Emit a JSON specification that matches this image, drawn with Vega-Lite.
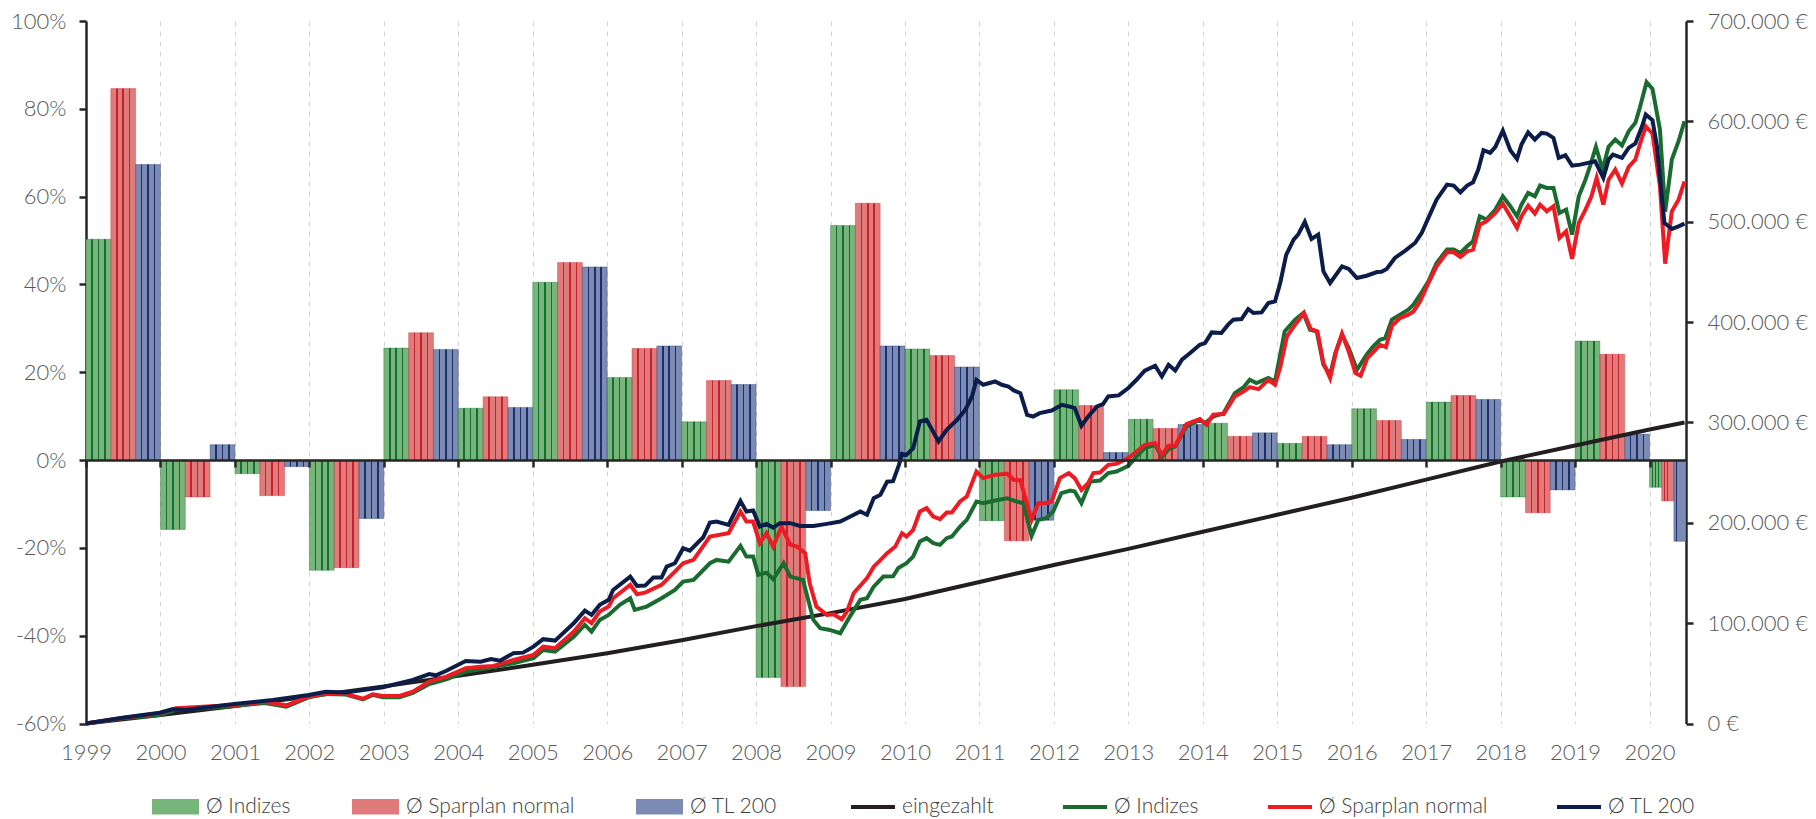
{
  "$schema": "https://vega.github.io/schema/vega-lite/v6.json",
  "width": 1600,
  "height": 702.5,
  "autosize": {"type": "none"},
  "padding": {"left": 86, "top": 21, "right": 130, "bottom": 95.5},
  "background": "white",
  "config": {
    "view": {"stroke": null},
    "axis": {"labelFont": "Lato", "labelFontWeight": 300, "labelFontSize": 22, "labelColor": "#595959"},
    "legend": {"labelFont": "Lato", "labelFontWeight": 300, "labelFontSize": 21, "labelColor": "#404040", "labelLimit": 400}
  },
  "datasets": {
    "balken": [
      {"jahr": 1999, "serie": "Ø Indizes", "wert": 50.3, "von": 1999, "bis": 1999.3333},
      {"jahr": 1999, "serie": "Ø Sparplan normal", "wert": 84.6, "von": 1999.3333, "bis": 1999.6667},
      {"jahr": 1999, "serie": "Ø TL 200", "wert": 67.3, "von": 1999.6667, "bis": 2000},
      {"jahr": 2000, "serie": "Ø Indizes", "wert": -15.8, "von": 2000, "bis": 2000.3333},
      {"jahr": 2000, "serie": "Ø Sparplan normal", "wert": -8.4, "von": 2000.3333, "bis": 2000.6667},
      {"jahr": 2000, "serie": "Ø TL 200", "wert": 3.5, "von": 2000.6667, "bis": 2001},
      {"jahr": 2001, "serie": "Ø Indizes", "wert": -3.1, "von": 2001, "bis": 2001.3333},
      {"jahr": 2001, "serie": "Ø Sparplan normal", "wert": -8.1, "von": 2001.3333, "bis": 2001.6667},
      {"jahr": 2001, "serie": "Ø TL 200", "wert": -1.5, "von": 2001.6667, "bis": 2002},
      {"jahr": 2002, "serie": "Ø Indizes", "wert": -25.1, "von": 2002, "bis": 2002.3333},
      {"jahr": 2002, "serie": "Ø Sparplan normal", "wert": -24.5, "von": 2002.3333, "bis": 2002.6667},
      {"jahr": 2002, "serie": "Ø TL 200", "wert": -13.3, "von": 2002.6667, "bis": 2003},
      {"jahr": 2003, "serie": "Ø Indizes", "wert": 25.5, "von": 2003, "bis": 2003.3333},
      {"jahr": 2003, "serie": "Ø Sparplan normal", "wert": 29.0, "von": 2003.3333, "bis": 2003.6667},
      {"jahr": 2003, "serie": "Ø TL 200", "wert": 25.2, "von": 2003.6667, "bis": 2004},
      {"jahr": 2004, "serie": "Ø Indizes", "wert": 11.8, "von": 2004, "bis": 2004.3333},
      {"jahr": 2004, "serie": "Ø Sparplan normal", "wert": 14.4, "von": 2004.3333, "bis": 2004.6667},
      {"jahr": 2004, "serie": "Ø TL 200", "wert": 12.0, "von": 2004.6667, "bis": 2005},
      {"jahr": 2005, "serie": "Ø Indizes", "wert": 40.5, "von": 2005, "bis": 2005.3333},
      {"jahr": 2005, "serie": "Ø Sparplan normal", "wert": 45.0, "von": 2005.3333, "bis": 2005.6667},
      {"jahr": 2005, "serie": "Ø TL 200", "wert": 44.0, "von": 2005.6667, "bis": 2006},
      {"jahr": 2006, "serie": "Ø Indizes", "wert": 18.8, "von": 2006, "bis": 2006.3333},
      {"jahr": 2006, "serie": "Ø Sparplan normal", "wert": 25.4, "von": 2006.3333, "bis": 2006.6667},
      {"jahr": 2006, "serie": "Ø TL 200", "wert": 26.0, "von": 2006.6667, "bis": 2007},
      {"jahr": 2007, "serie": "Ø Indizes", "wert": 8.7, "von": 2007, "bis": 2007.3333},
      {"jahr": 2007, "serie": "Ø Sparplan normal", "wert": 18.1, "von": 2007.3333, "bis": 2007.6667},
      {"jahr": 2007, "serie": "Ø TL 200", "wert": 17.2, "von": 2007.6667, "bis": 2008},
      {"jahr": 2008, "serie": "Ø Indizes", "wert": -49.5, "von": 2008, "bis": 2008.3333},
      {"jahr": 2008, "serie": "Ø Sparplan normal", "wert": -51.6, "von": 2008.3333, "bis": 2008.6667},
      {"jahr": 2008, "serie": "Ø TL 200", "wert": -11.5, "von": 2008.6667, "bis": 2009},
      {"jahr": 2009, "serie": "Ø Indizes", "wert": 53.4, "von": 2009, "bis": 2009.3333},
      {"jahr": 2009, "serie": "Ø Sparplan normal", "wert": 58.5, "von": 2009.3333, "bis": 2009.6667},
      {"jahr": 2009, "serie": "Ø TL 200", "wert": 26.0, "von": 2009.6667, "bis": 2010},
      {"jahr": 2010, "serie": "Ø Indizes", "wert": 25.3, "von": 2010, "bis": 2010.3333},
      {"jahr": 2010, "serie": "Ø Sparplan normal", "wert": 23.8, "von": 2010.3333, "bis": 2010.6667},
      {"jahr": 2010, "serie": "Ø TL 200", "wert": 21.2, "von": 2010.6667, "bis": 2011},
      {"jahr": 2011, "serie": "Ø Indizes", "wert": -13.8, "von": 2011, "bis": 2011.3333},
      {"jahr": 2011, "serie": "Ø Sparplan normal", "wert": -18.4, "von": 2011.3333, "bis": 2011.6667},
      {"jahr": 2011, "serie": "Ø TL 200", "wert": -13.7, "von": 2011.6667, "bis": 2012},
      {"jahr": 2012, "serie": "Ø Indizes", "wert": 16.0, "von": 2012, "bis": 2012.3333},
      {"jahr": 2012, "serie": "Ø Sparplan normal", "wert": 12.4, "von": 2012.3333, "bis": 2012.6667},
      {"jahr": 2012, "serie": "Ø TL 200", "wert": 1.7, "von": 2012.6667, "bis": 2013},
      {"jahr": 2013, "serie": "Ø Indizes", "wert": 9.3, "von": 2013, "bis": 2013.3333},
      {"jahr": 2013, "serie": "Ø Sparplan normal", "wert": 7.2, "von": 2013.3333, "bis": 2013.6667},
      {"jahr": 2013, "serie": "Ø TL 200", "wert": 8.1, "von": 2013.6667, "bis": 2014},
      {"jahr": 2014, "serie": "Ø Indizes", "wert": 8.4, "von": 2014, "bis": 2014.3333},
      {"jahr": 2014, "serie": "Ø Sparplan normal", "wert": 5.4, "von": 2014.3333, "bis": 2014.6667},
      {"jahr": 2014, "serie": "Ø TL 200", "wert": 6.2, "von": 2014.6667, "bis": 2015},
      {"jahr": 2015, "serie": "Ø Indizes", "wert": 3.8, "von": 2015, "bis": 2015.3333},
      {"jahr": 2015, "serie": "Ø Sparplan normal", "wert": 5.4, "von": 2015.3333, "bis": 2015.6667},
      {"jahr": 2015, "serie": "Ø TL 200", "wert": 3.5, "von": 2015.6667, "bis": 2016},
      {"jahr": 2016, "serie": "Ø Indizes", "wert": 11.7, "von": 2016, "bis": 2016.3333},
      {"jahr": 2016, "serie": "Ø Sparplan normal", "wert": 9.0, "von": 2016.3333, "bis": 2016.6667},
      {"jahr": 2016, "serie": "Ø TL 200", "wert": 4.7, "von": 2016.6667, "bis": 2017},
      {"jahr": 2017, "serie": "Ø Indizes", "wert": 13.2, "von": 2017, "bis": 2017.3333},
      {"jahr": 2017, "serie": "Ø Sparplan normal", "wert": 14.7, "von": 2017.3333, "bis": 2017.6667},
      {"jahr": 2017, "serie": "Ø TL 200", "wert": 13.8, "von": 2017.6667, "bis": 2018},
      {"jahr": 2018, "serie": "Ø Indizes", "wert": -8.4, "von": 2018, "bis": 2018.3333},
      {"jahr": 2018, "serie": "Ø Sparplan normal", "wert": -12.0, "von": 2018.3333, "bis": 2018.6667},
      {"jahr": 2018, "serie": "Ø TL 200", "wert": -6.8, "von": 2018.6667, "bis": 2019},
      {"jahr": 2019, "serie": "Ø Indizes", "wert": 27.1, "von": 2019, "bis": 2019.3333},
      {"jahr": 2019, "serie": "Ø Sparplan normal", "wert": 24.1, "von": 2019.3333, "bis": 2019.6667},
      {"jahr": 2019, "serie": "Ø TL 200", "wert": 5.9, "von": 2019.6667, "bis": 2020},
      {"jahr": 2020, "serie": "Ø Indizes", "wert": -6.2, "von": 2020, "bis": 2020.163},
      {"jahr": 2020, "serie": "Ø Sparplan normal", "wert": -9.3, "von": 2020.163, "bis": 2020.327},
      {"jahr": 2020, "serie": "Ø TL 200", "wert": -18.5, "von": 2020.327, "bis": 2020.49}
    ],
    "eingezahlt": [
      {"jahr": 1999, "wert": 0}, {"jahr": 2000, "wert": 8500}, {"jahr": 2001, "wert": 17500},
      {"jahr": 2002, "wert": 27000}, {"jahr": 2003, "wert": 37000}, {"jahr": 2004, "wert": 47500},
      {"jahr": 2005, "wert": 58500}, {"jahr": 2006, "wert": 70000}, {"jahr": 2007, "wert": 83000},
      {"jahr": 2008, "wert": 97000}, {"jahr": 2009, "wert": 110000}, {"jahr": 2010, "wert": 124000},
      {"jahr": 2011, "wert": 141000}, {"jahr": 2012, "wert": 158000}, {"jahr": 2013, "wert": 174000},
      {"jahr": 2014, "wert": 191000}, {"jahr": 2015, "wert": 208000}, {"jahr": 2016, "wert": 225000},
      {"jahr": 2017, "wert": 243000}, {"jahr": 2018, "wert": 261000}, {"jahr": 2019, "wert": 277000},
      {"jahr": 2020, "wert": 293000}, {"jahr": 2020.47, "wert": 300000}
    ],
    "indizes": [
      {"jahr": 1999.00, "wert": 0}, {"jahr": 1999.49, "wert": 5300}, {"jahr": 1999.99, "wert": 8500},
      {"jahr": 2000.21, "wert": 13500}, {"jahr": 2000.99, "wert": 17400}, {"jahr": 2001.40, "wert": 20500},
      {"jahr": 2001.69, "wert": 16800}, {"jahr": 2001.99, "wert": 26100}, {"jahr": 2002.22, "wert": 29500},
      {"jahr": 2002.49, "wert": 28800}, {"jahr": 2002.72, "wert": 24100}, {"jahr": 2002.85, "wert": 28500},
      {"jahr": 2002.99, "wert": 26100}, {"jahr": 2003.21, "wert": 26100}, {"jahr": 2003.39, "wert": 30500},
      {"jahr": 2003.61, "wert": 39400}, {"jahr": 2003.84, "wert": 44000}, {"jahr": 2004.10, "wert": 51600},
      {"jahr": 2004.30, "wert": 54000}, {"jahr": 2004.74, "wert": 60000}, {"jahr": 2005.01, "wert": 65000},
      {"jahr": 2005.14, "wert": 73300}, {"jahr": 2005.30, "wert": 71600}, {"jahr": 2005.55, "wert": 86500},
      {"jahr": 2005.70, "wert": 98200}, {"jahr": 2005.79, "wert": 91500}, {"jahr": 2005.90, "wert": 103200},
      {"jahr": 2006.02, "wert": 108200}, {"jahr": 2006.17, "wert": 118200}, {"jahr": 2006.31, "wert": 124800},
      {"jahr": 2006.37, "wert": 113200}, {"jahr": 2006.53, "wert": 116500}, {"jahr": 2006.73, "wert": 124800},
      {"jahr": 2006.91, "wert": 133100}, {"jahr": 2007.02, "wert": 141400}, {"jahr": 2007.16, "wert": 143100},
      {"jahr": 2007.38, "wert": 159700}, {"jahr": 2007.47, "wert": 163000}, {"jahr": 2007.63, "wert": 161300},
      {"jahr": 2007.79, "wert": 177000}, {"jahr": 2007.87, "wert": 166300}, {"jahr": 2007.96, "wert": 166300},
      {"jahr": 2008.03, "wert": 148100}, {"jahr": 2008.14, "wert": 150300}, {"jahr": 2008.23, "wert": 143800},
      {"jahr": 2008.37, "wert": 159700}, {"jahr": 2008.46, "wert": 146400}, {"jahr": 2008.63, "wert": 143100},
      {"jahr": 2008.77, "wert": 103200}, {"jahr": 2008.86, "wert": 94900}, {"jahr": 2008.99, "wert": 93200},
      {"jahr": 2009.13, "wert": 89900}, {"jahr": 2009.26, "wert": 106500}, {"jahr": 2009.40, "wert": 123200},
      {"jahr": 2009.49, "wert": 124800}, {"jahr": 2009.58, "wert": 136400}, {"jahr": 2009.71, "wert": 146400},
      {"jahr": 2009.84, "wert": 146700}, {"jahr": 2009.91, "wert": 155000}, {"jahr": 2010.02, "wert": 159700},
      {"jahr": 2010.11, "wert": 166300}, {"jahr": 2010.20, "wert": 181300}, {"jahr": 2010.29, "wert": 184700},
      {"jahr": 2010.38, "wert": 179700}, {"jahr": 2010.47, "wert": 178000}, {"jahr": 2010.56, "wert": 184700},
      {"jahr": 2010.63, "wert": 186300}, {"jahr": 2010.74, "wert": 196200}, {"jahr": 2010.83, "wert": 202900},
      {"jahr": 2010.96, "wert": 221200}, {"jahr": 2011.05, "wert": 219500}, {"jahr": 2011.21, "wert": 222200},
      {"jahr": 2011.37, "wert": 224500}, {"jahr": 2011.50, "wert": 221200}, {"jahr": 2011.59, "wert": 219500},
      {"jahr": 2011.70, "wert": 187000}, {"jahr": 2011.79, "wert": 202900}, {"jahr": 2011.90, "wert": 204600},
      {"jahr": 2011.99, "wert": 211200}, {"jahr": 2012.10, "wert": 229500}, {"jahr": 2012.22, "wert": 232100},
      {"jahr": 2012.28, "wert": 231100}, {"jahr": 2012.37, "wert": 219500}, {"jahr": 2012.49, "wert": 241100},
      {"jahr": 2012.62, "wert": 242100}, {"jahr": 2012.73, "wert": 249500}, {"jahr": 2012.84, "wert": 251100},
      {"jahr": 2013.00, "wert": 256800}, {"jahr": 2013.11, "wert": 266000}, {"jahr": 2013.22, "wert": 274400},
      {"jahr": 2013.36, "wert": 277700}, {"jahr": 2013.45, "wert": 265400}, {"jahr": 2013.54, "wert": 273400},
      {"jahr": 2013.63, "wert": 276000}, {"jahr": 2013.78, "wert": 295900}, {"jahr": 2013.96, "wert": 302600},
      {"jahr": 2014.03, "wert": 299300}, {"jahr": 2014.14, "wert": 305900}, {"jahr": 2014.28, "wert": 309300},
      {"jahr": 2014.43, "wert": 329200}, {"jahr": 2014.55, "wert": 335200}, {"jahr": 2014.63, "wert": 342500},
      {"jahr": 2014.72, "wert": 339200}, {"jahr": 2014.88, "wert": 344200}, {"jahr": 2014.97, "wert": 340800},
      {"jahr": 2015.10, "wert": 390600}, {"jahr": 2015.24, "wert": 402400}, {"jahr": 2015.35, "wert": 409000},
      {"jahr": 2015.44, "wert": 392400}, {"jahr": 2015.53, "wert": 390700}, {"jahr": 2015.62, "wert": 357500},
      {"jahr": 2015.71, "wert": 347500}, {"jahr": 2015.78, "wert": 369100}, {"jahr": 2015.87, "wert": 387400},
      {"jahr": 2015.96, "wert": 374100}, {"jahr": 2016.07, "wert": 352500}, {"jahr": 2016.20, "wert": 367500},
      {"jahr": 2016.29, "wert": 375700}, {"jahr": 2016.38, "wert": 382400}, {"jahr": 2016.45, "wert": 384000},
      {"jahr": 2016.54, "wert": 402400}, {"jahr": 2016.65, "wert": 407400}, {"jahr": 2016.76, "wert": 412300},
      {"jahr": 2016.83, "wert": 417300}, {"jahr": 2016.92, "wert": 427300}, {"jahr": 2017.03, "wert": 440600},
      {"jahr": 2017.14, "wert": 458900}, {"jahr": 2017.28, "wert": 472200}, {"jahr": 2017.37, "wert": 472200},
      {"jahr": 2017.46, "wert": 468900}, {"jahr": 2017.55, "wert": 475500}, {"jahr": 2017.63, "wert": 480500},
      {"jahr": 2017.72, "wert": 505400}, {"jahr": 2017.81, "wert": 502100}, {"jahr": 2017.93, "wert": 512100},
      {"jahr": 2018.03, "wert": 525300}, {"jahr": 2018.13, "wert": 515400}, {"jahr": 2018.22, "wert": 505400},
      {"jahr": 2018.28, "wert": 517000}, {"jahr": 2018.37, "wert": 528700}, {"jahr": 2018.46, "wert": 525300},
      {"jahr": 2018.53, "wert": 536000}, {"jahr": 2018.62, "wert": 533700}, {"jahr": 2018.71, "wert": 533700},
      {"jahr": 2018.79, "wert": 508700}, {"jahr": 2018.88, "wert": 512100}, {"jahr": 2018.96, "wert": 487100},
      {"jahr": 2019.05, "wert": 525300}, {"jahr": 2019.14, "wert": 541900}, {"jahr": 2019.20, "wert": 555200},
      {"jahr": 2019.28, "wert": 574600}, {"jahr": 2019.37, "wert": 551900}, {"jahr": 2019.45, "wert": 574600},
      {"jahr": 2019.54, "wert": 581900}, {"jahr": 2019.63, "wert": 575900}, {"jahr": 2019.72, "wert": 590100},
      {"jahr": 2019.81, "wert": 598500}, {"jahr": 2019.87, "wert": 613500}, {"jahr": 2019.96, "wert": 639000},
      {"jahr": 2020.04, "wert": 632400}, {"jahr": 2020.14, "wert": 591800}, {"jahr": 2020.21, "wert": 510000},
      {"jahr": 2020.30, "wert": 561900}, {"jahr": 2020.39, "wert": 580200}, {"jahr": 2020.47, "wert": 600100}
    ],
    "sparplan": [
      {"jahr": 1999.00, "wert": 0}, {"jahr": 1999.49, "wert": 5500}, {"jahr": 1999.99, "wert": 10200},
      {"jahr": 2000.21, "wert": 15200}, {"jahr": 2000.99, "wert": 18400}, {"jahr": 2001.40, "wert": 21700},
      {"jahr": 2001.69, "wert": 18100}, {"jahr": 2001.99, "wert": 26700}, {"jahr": 2002.22, "wert": 30100},
      {"jahr": 2002.49, "wert": 29400}, {"jahr": 2002.72, "wert": 24700}, {"jahr": 2002.85, "wert": 29100},
      {"jahr": 2002.99, "wert": 27400}, {"jahr": 2003.21, "wert": 27400}, {"jahr": 2003.39, "wert": 31700},
      {"jahr": 2003.61, "wert": 41700}, {"jahr": 2003.84, "wert": 46700}, {"jahr": 2004.10, "wert": 55000},
      {"jahr": 2004.30, "wert": 56600}, {"jahr": 2004.47, "wert": 57300}, {"jahr": 2004.74, "wert": 63300},
      {"jahr": 2005.01, "wert": 68300}, {"jahr": 2005.14, "wert": 76600}, {"jahr": 2005.30, "wert": 75000},
      {"jahr": 2005.55, "wert": 91500}, {"jahr": 2005.70, "wert": 104900}, {"jahr": 2005.79, "wert": 99900},
      {"jahr": 2005.90, "wert": 111500}, {"jahr": 2006.02, "wert": 116500}, {"jahr": 2006.08, "wert": 124800},
      {"jahr": 2006.31, "wert": 138100}, {"jahr": 2006.40, "wert": 128800}, {"jahr": 2006.51, "wert": 130400},
      {"jahr": 2006.73, "wert": 138100}, {"jahr": 2006.91, "wert": 151300}, {"jahr": 2007.02, "wert": 159700},
      {"jahr": 2007.16, "wert": 163000}, {"jahr": 2007.38, "wert": 186200}, {"jahr": 2007.63, "wert": 189600},
      {"jahr": 2007.79, "wert": 211200}, {"jahr": 2007.87, "wert": 201200}, {"jahr": 2007.96, "wert": 201200},
      {"jahr": 2008.05, "wert": 179700}, {"jahr": 2008.14, "wert": 189600}, {"jahr": 2008.23, "wert": 176300},
      {"jahr": 2008.34, "wert": 196200}, {"jahr": 2008.46, "wert": 178000}, {"jahr": 2008.55, "wert": 176300},
      {"jahr": 2008.66, "wert": 169700}, {"jahr": 2008.72, "wert": 139800}, {"jahr": 2008.81, "wert": 116500},
      {"jahr": 2008.95, "wert": 108200}, {"jahr": 2009.04, "wert": 108900}, {"jahr": 2009.15, "wert": 103900},
      {"jahr": 2009.22, "wert": 111500}, {"jahr": 2009.31, "wert": 129800}, {"jahr": 2009.49, "wert": 144800},
      {"jahr": 2009.58, "wert": 156300}, {"jahr": 2009.66, "wert": 162000}, {"jahr": 2009.76, "wert": 169700},
      {"jahr": 2009.87, "wert": 176300}, {"jahr": 2009.96, "wert": 189600}, {"jahr": 2010.02, "wert": 186200},
      {"jahr": 2010.11, "wert": 192900}, {"jahr": 2010.20, "wert": 211200}, {"jahr": 2010.29, "wert": 214600},
      {"jahr": 2010.38, "wert": 206200}, {"jahr": 2010.47, "wert": 203600}, {"jahr": 2010.56, "wert": 210200},
      {"jahr": 2010.63, "wert": 210200}, {"jahr": 2010.74, "wert": 221200}, {"jahr": 2010.83, "wert": 226100},
      {"jahr": 2010.96, "wert": 251100}, {"jahr": 2011.05, "wert": 244500}, {"jahr": 2011.21, "wert": 247800},
      {"jahr": 2011.37, "wert": 248800}, {"jahr": 2011.46, "wert": 242800}, {"jahr": 2011.55, "wert": 242500},
      {"jahr": 2011.61, "wert": 226100}, {"jahr": 2011.70, "wert": 202900}, {"jahr": 2011.79, "wert": 219500},
      {"jahr": 2011.88, "wert": 219500}, {"jahr": 2011.97, "wert": 221200}, {"jahr": 2012.08, "wert": 244500},
      {"jahr": 2012.20, "wert": 249500}, {"jahr": 2012.28, "wert": 244500}, {"jahr": 2012.37, "wert": 232800},
      {"jahr": 2012.46, "wert": 239500}, {"jahr": 2012.53, "wert": 249500}, {"jahr": 2012.62, "wert": 250100},
      {"jahr": 2012.73, "wert": 257700}, {"jahr": 2012.84, "wert": 258700}, {"jahr": 2013.00, "wert": 264400},
      {"jahr": 2013.11, "wert": 271000}, {"jahr": 2013.22, "wert": 277700}, {"jahr": 2013.36, "wert": 279400},
      {"jahr": 2013.45, "wert": 267700}, {"jahr": 2013.54, "wert": 276700}, {"jahr": 2013.63, "wert": 276700},
      {"jahr": 2013.78, "wert": 298300}, {"jahr": 2013.96, "wert": 303300}, {"jahr": 2014.05, "wert": 297600},
      {"jahr": 2014.14, "wert": 307600}, {"jahr": 2014.28, "wert": 308300}, {"jahr": 2014.43, "wert": 325900},
      {"jahr": 2014.55, "wert": 330900}, {"jahr": 2014.63, "wert": 335200}, {"jahr": 2014.75, "wert": 333200},
      {"jahr": 2014.88, "wert": 342500}, {"jahr": 2014.97, "wert": 337500}, {"jahr": 2015.04, "wert": 355000},
      {"jahr": 2015.13, "wert": 385700}, {"jahr": 2015.24, "wert": 397400}, {"jahr": 2015.36, "wert": 409000},
      {"jahr": 2015.45, "wert": 393100}, {"jahr": 2015.54, "wert": 390700}, {"jahr": 2015.62, "wert": 359200},
      {"jahr": 2015.71, "wert": 344200}, {"jahr": 2015.79, "wert": 370700}, {"jahr": 2015.87, "wert": 388400},
      {"jahr": 2015.96, "wert": 370700}, {"jahr": 2016.05, "wert": 349200}, {"jahr": 2016.12, "wert": 346500},
      {"jahr": 2016.21, "wert": 364100}, {"jahr": 2016.30, "wert": 370700}, {"jahr": 2016.38, "wert": 377400},
      {"jahr": 2016.46, "wert": 375100}, {"jahr": 2016.54, "wert": 396400}, {"jahr": 2016.65, "wert": 404000},
      {"jahr": 2016.76, "wert": 407400}, {"jahr": 2016.83, "wert": 410600}, {"jahr": 2016.92, "wert": 420600},
      {"jahr": 2017.03, "wert": 438900}, {"jahr": 2017.14, "wert": 455500}, {"jahr": 2017.28, "wert": 469500},
      {"jahr": 2017.37, "wert": 469500}, {"jahr": 2017.46, "wert": 464800}, {"jahr": 2017.55, "wert": 470400},
      {"jahr": 2017.63, "wert": 472200}, {"jahr": 2017.72, "wert": 497100}, {"jahr": 2017.81, "wert": 500400},
      {"jahr": 2017.93, "wert": 508700}, {"jahr": 2018.03, "wert": 518000}, {"jahr": 2018.13, "wert": 505400},
      {"jahr": 2018.22, "wert": 493800}, {"jahr": 2018.28, "wert": 505400}, {"jahr": 2018.37, "wert": 516000},
      {"jahr": 2018.46, "wert": 508100}, {"jahr": 2018.53, "wert": 517000}, {"jahr": 2018.62, "wert": 510400},
      {"jahr": 2018.71, "wert": 515400}, {"jahr": 2018.79, "wert": 483800}, {"jahr": 2018.88, "wert": 490400},
      {"jahr": 2018.96, "wert": 462900}, {"jahr": 2019.05, "wert": 498800}, {"jahr": 2019.14, "wert": 512100},
      {"jahr": 2019.22, "wert": 525300}, {"jahr": 2019.29, "wert": 543700}, {"jahr": 2019.38, "wert": 517000},
      {"jahr": 2019.45, "wert": 541900}, {"jahr": 2019.54, "wert": 551900}, {"jahr": 2019.63, "wert": 538000},
      {"jahr": 2019.72, "wert": 554600}, {"jahr": 2019.81, "wert": 561900}, {"jahr": 2019.87, "wert": 576900},
      {"jahr": 2019.95, "wert": 595100}, {"jahr": 2020.04, "wert": 587800}, {"jahr": 2020.14, "wert": 535300},
      {"jahr": 2020.21, "wert": 458200}, {"jahr": 2020.30, "wert": 510400}, {"jahr": 2020.39, "wert": 522000},
      {"jahr": 2020.47, "wert": 540300}
    ],
    "tl200": [
      {"jahr": 1999.00, "wert": 0}, {"jahr": 1999.49, "wert": 5800}, {"jahr": 1999.99, "wert": 10800},
      {"jahr": 2000.16, "wert": 14100}, {"jahr": 2000.34, "wert": 13500}, {"jahr": 2000.99, "wert": 19400},
      {"jahr": 2001.51, "wert": 23400}, {"jahr": 2001.99, "wert": 28400}, {"jahr": 2002.22, "wert": 31700},
      {"jahr": 2002.49, "wert": 31000}, {"jahr": 2002.72, "wert": 33400}, {"jahr": 2002.99, "wert": 36100},
      {"jahr": 2003.39, "wert": 43400}, {"jahr": 2003.61, "wert": 49300}, {"jahr": 2003.70, "wert": 48000},
      {"jahr": 2003.84, "wert": 52600}, {"jahr": 2004.10, "wert": 62300}, {"jahr": 2004.30, "wert": 61600},
      {"jahr": 2004.44, "wert": 64300}, {"jahr": 2004.56, "wert": 62600}, {"jahr": 2004.74, "wert": 70000},
      {"jahr": 2004.87, "wert": 70600}, {"jahr": 2005.01, "wert": 76600}, {"jahr": 2005.14, "wert": 84000},
      {"jahr": 2005.30, "wert": 82600}, {"jahr": 2005.55, "wert": 99900}, {"jahr": 2005.70, "wert": 112500},
      {"jahr": 2005.79, "wert": 108200}, {"jahr": 2005.90, "wert": 118200}, {"jahr": 2006.02, "wert": 123200},
      {"jahr": 2006.08, "wert": 133100}, {"jahr": 2006.31, "wert": 146400}, {"jahr": 2006.40, "wert": 137100},
      {"jahr": 2006.51, "wert": 137400}, {"jahr": 2006.62, "wert": 145400}, {"jahr": 2006.73, "wert": 145400},
      {"jahr": 2006.80, "wert": 156300}, {"jahr": 2006.91, "wert": 159700}, {"jahr": 2007.02, "wert": 174700},
      {"jahr": 2007.11, "wert": 172300}, {"jahr": 2007.29, "wert": 185600}, {"jahr": 2007.38, "wert": 200200},
      {"jahr": 2007.47, "wert": 201200}, {"jahr": 2007.63, "wert": 197900}, {"jahr": 2007.79, "wert": 221800},
      {"jahr": 2007.87, "wert": 211200}, {"jahr": 2007.96, "wert": 212200}, {"jahr": 2008.05, "wert": 196200},
      {"jahr": 2008.14, "wert": 198900}, {"jahr": 2008.23, "wert": 195200}, {"jahr": 2008.32, "wert": 199600},
      {"jahr": 2008.46, "wert": 199600}, {"jahr": 2008.59, "wert": 196900}, {"jahr": 2008.77, "wert": 196900},
      {"jahr": 2008.95, "wert": 198900}, {"jahr": 2009.13, "wert": 201200}, {"jahr": 2009.22, "wert": 204600},
      {"jahr": 2009.40, "wert": 211200}, {"jahr": 2009.49, "wert": 207900}, {"jahr": 2009.58, "wert": 224500},
      {"jahr": 2009.67, "wert": 228000}, {"jahr": 2009.76, "wert": 241000}, {"jahr": 2009.84, "wert": 241500},
      {"jahr": 2009.92, "wert": 258000}, {"jahr": 2009.96, "wert": 268700}, {"jahr": 2010.02, "wert": 267700},
      {"jahr": 2010.11, "wert": 274400}, {"jahr": 2010.20, "wert": 301000}, {"jahr": 2010.29, "wert": 302600},
      {"jahr": 2010.45, "wert": 281000}, {"jahr": 2010.56, "wert": 292700}, {"jahr": 2010.70, "wert": 302600},
      {"jahr": 2010.81, "wert": 312600}, {"jahr": 2010.90, "wert": 325900}, {"jahr": 2010.96, "wert": 342500},
      {"jahr": 2011.05, "wert": 337500}, {"jahr": 2011.21, "wert": 340800}, {"jahr": 2011.30, "wert": 337500},
      {"jahr": 2011.39, "wert": 335800}, {"jahr": 2011.46, "wert": 331900}, {"jahr": 2011.55, "wert": 329200},
      {"jahr": 2011.64, "wert": 307600}, {"jahr": 2011.72, "wert": 305900}, {"jahr": 2011.81, "wert": 309300},
      {"jahr": 2011.97, "wert": 311900}, {"jahr": 2012.11, "wert": 317600}, {"jahr": 2012.24, "wert": 315300},
      {"jahr": 2012.28, "wert": 314300}, {"jahr": 2012.37, "wert": 296700}, {"jahr": 2012.46, "wert": 305900},
      {"jahr": 2012.58, "wert": 315900}, {"jahr": 2012.66, "wert": 318300}, {"jahr": 2012.73, "wert": 325900},
      {"jahr": 2012.87, "wert": 326900}, {"jahr": 2013.00, "wert": 334300}, {"jahr": 2013.11, "wert": 342500},
      {"jahr": 2013.22, "wert": 351500}, {"jahr": 2013.36, "wert": 356500}, {"jahr": 2013.45, "wert": 345800},
      {"jahr": 2013.54, "wert": 357500}, {"jahr": 2013.63, "wert": 351800}, {"jahr": 2013.72, "wert": 362500},
      {"jahr": 2013.83, "wert": 369100}, {"jahr": 2013.96, "wert": 377400}, {"jahr": 2014.03, "wert": 379100},
      {"jahr": 2014.12, "wert": 389700}, {"jahr": 2014.25, "wert": 389100}, {"jahr": 2014.34, "wert": 397400},
      {"jahr": 2014.41, "wert": 402400}, {"jahr": 2014.52, "wert": 403000}, {"jahr": 2014.61, "wert": 413000},
      {"jahr": 2014.68, "wert": 409000}, {"jahr": 2014.79, "wert": 409600}, {"jahr": 2014.88, "wert": 419000},
      {"jahr": 2014.97, "wert": 420600}, {"jahr": 2015.04, "wert": 438900}, {"jahr": 2015.12, "wert": 467000},
      {"jahr": 2015.22, "wert": 482100}, {"jahr": 2015.28, "wert": 487100}, {"jahr": 2015.37, "wert": 499800},
      {"jahr": 2015.46, "wert": 482800}, {"jahr": 2015.55, "wert": 487100}, {"jahr": 2015.62, "wert": 450500},
      {"jahr": 2015.71, "wert": 438900}, {"jahr": 2015.87, "wert": 455500}, {"jahr": 2015.96, "wert": 452900},
      {"jahr": 2016.07, "wert": 443900}, {"jahr": 2016.20, "wert": 446200}, {"jahr": 2016.34, "wert": 449900},
      {"jahr": 2016.40, "wert": 450200}, {"jahr": 2016.47, "wert": 452900}, {"jahr": 2016.58, "wert": 463900},
      {"jahr": 2016.72, "wert": 471200}, {"jahr": 2016.85, "wert": 478800}, {"jahr": 2016.94, "wert": 488800},
      {"jahr": 2017.03, "wert": 503800}, {"jahr": 2017.14, "wert": 522000}, {"jahr": 2017.28, "wert": 537000},
      {"jahr": 2017.37, "wert": 536000}, {"jahr": 2017.46, "wert": 529300}, {"jahr": 2017.55, "wert": 536000},
      {"jahr": 2017.63, "wert": 539300}, {"jahr": 2017.70, "wert": 551900}, {"jahr": 2017.77, "wert": 571200},
      {"jahr": 2017.86, "wert": 568600}, {"jahr": 2017.93, "wert": 574600}, {"jahr": 2018.03, "wert": 590800},
      {"jahr": 2018.13, "wert": 571200}, {"jahr": 2018.22, "wert": 562600}, {"jahr": 2018.28, "wert": 576900},
      {"jahr": 2018.37, "wert": 589100}, {"jahr": 2018.46, "wert": 581900}, {"jahr": 2018.55, "wert": 588500},
      {"jahr": 2018.62, "wert": 587800}, {"jahr": 2018.71, "wert": 583500}, {"jahr": 2018.78, "wert": 563600},
      {"jahr": 2018.87, "wert": 566200}, {"jahr": 2018.96, "wert": 555900}, {"jahr": 2019.07, "wert": 556900},
      {"jahr": 2019.27, "wert": 560200}, {"jahr": 2019.38, "wert": 543700}, {"jahr": 2019.45, "wert": 561900},
      {"jahr": 2019.51, "wert": 566900}, {"jahr": 2019.63, "wert": 563600}, {"jahr": 2019.72, "wert": 573600},
      {"jahr": 2019.81, "wert": 577900}, {"jahr": 2019.90, "wert": 595100}, {"jahr": 2019.95, "wert": 606800},
      {"jahr": 2020.04, "wert": 601100}, {"jahr": 2020.10, "wert": 575200}, {"jahr": 2020.20, "wert": 498800},
      {"jahr": 2020.30, "wert": 492800}, {"jahr": 2020.39, "wert": 495400}, {"jahr": 2020.47, "wert": 498100}
    ]
  },
  "layer": [
    {
      "data": {"name": "balken"},
      "encoding": {
        "x": {
          "field": "von", "type": "quantitative",
          "scale": {"domain": [1999, 2020.49], "nice": false, "zero": false},
          "axis": {
            "orient": "bottom", "offset": -263.44, "values": [1999, 2000, 2001, 2002, 2003, 2004, 2005, 2006, 2007, 2008, 2009, 2010, 2011, 2012, 2013, 2014, 2015, 2016, 2017, 2018, 2019, 2020],
            "labels": false, "grid": false, "title": null,
            "domainColor": "#262626", "domainWidth": 2.5, "tickColor": "#262626", "tickWidth": 2.5, "tickSize": 7, "zindex": 1
          }
        },
        "x2": {"field": "bis"},
        "y": {
          "field": "wert", "type": "quantitative",
          "scale": {"domain": [-60, 100], "nice": false},
          "axis": {
            "orient": "left", "values": [-60, -40, -20, 0, 20, 40, 60, 80, 100],
            "labelExpr": "datum.value + '%'", "title": null, "grid": false,
            "domainColor": "#262626", "domainWidth": 2.5, "tickColor": "#262626", "tickWidth": 2.5, "tickSize": 7,
            "labelPadding": 13
          }
        },
        "y2": {"datum": 0}
      },
      "layer": [
        {
          "mark": {"type": "bar"},
          "encoding": {
            "color": {
              "field": "serie", "type": "nominal",
              "scale": {"domain": ["Ø Indizes", "Ø Sparplan normal", "Ø TL 200"], "range": ["#78b57b", "#e07b7b", "#7b8bb3"]},
              "legend": {
                "orient": "none", "legendX": 66, "legendY": 762, "direction": "horizontal", "title": null,
                "symbolType": "M-1,-0.33H1V0.33H-1Z", "symbolSize": 2209, "symbolStrokeWidth": 0,
                "labelOffset": 7, "columnPadding": 61
              }
            }
          }
        },
        {
          "transform": [{"filter": "datum.serie === 'Ø Indizes'"}],
          "mark": {
            "type": "bar", "stroke": "#146e32", "strokeOpacity": 0.35, "strokeWidth": 1,
            "fill": {"gradient": "linear", "x1": 0, "y1": 0, "x2": 1, "y2": 0, "stops": [
              {"offset": 0, "color": "rgba(20,110,50,0)"}, {"offset": 0.21, "color": "rgba(20,110,50,0)"},
              {"offset": 0.21, "color": "#146e32"}, {"offset": 0.27, "color": "#146e32"},
              {"offset": 0.27, "color": "rgba(20,110,50,0)"}, {"offset": 0.47, "color": "rgba(20,110,50,0)"},
              {"offset": 0.47, "color": "#146e32"}, {"offset": 0.53, "color": "#146e32"},
              {"offset": 0.53, "color": "rgba(20,110,50,0)"}, {"offset": 0.73, "color": "rgba(20,110,50,0)"},
              {"offset": 0.73, "color": "#146e32"}, {"offset": 0.79, "color": "#146e32"},
              {"offset": 0.79, "color": "rgba(20,110,50,0)"}, {"offset": 1, "color": "rgba(20,110,50,0)"}
            ]}
          }
        },
        {
          "transform": [{"filter": "datum.serie === 'Ø Sparplan normal'"}],
          "mark": {
            "type": "bar", "stroke": "#c9212b", "strokeOpacity": 0.35, "strokeWidth": 1,
            "fill": {"gradient": "linear", "x1": 0, "y1": 0, "x2": 1, "y2": 0, "stops": [
              {"offset": 0, "color": "rgba(201,33,43,0)"}, {"offset": 0.21, "color": "rgba(201,33,43,0)"},
              {"offset": 0.21, "color": "#c9212b"}, {"offset": 0.27, "color": "#c9212b"},
              {"offset": 0.27, "color": "rgba(201,33,43,0)"}, {"offset": 0.47, "color": "rgba(201,33,43,0)"},
              {"offset": 0.47, "color": "#c9212b"}, {"offset": 0.53, "color": "#c9212b"},
              {"offset": 0.53, "color": "rgba(201,33,43,0)"}, {"offset": 0.73, "color": "rgba(201,33,43,0)"},
              {"offset": 0.73, "color": "#c9212b"}, {"offset": 0.79, "color": "#c9212b"},
              {"offset": 0.79, "color": "rgba(201,33,43,0)"}, {"offset": 1, "color": "rgba(201,33,43,0)"}
            ]}
          }
        },
        {
          "transform": [{"filter": "datum.serie === 'Ø TL 200'"}],
          "mark": {
            "type": "bar", "stroke": "#1d2f6b", "strokeOpacity": 0.35, "strokeWidth": 1,
            "fill": {"gradient": "linear", "x1": 0, "y1": 0, "x2": 1, "y2": 0, "stops": [
              {"offset": 0, "color": "rgba(29,47,107,0)"}, {"offset": 0.21, "color": "rgba(29,47,107,0)"},
              {"offset": 0.21, "color": "#1d2f6b"}, {"offset": 0.27, "color": "#1d2f6b"},
              {"offset": 0.27, "color": "rgba(29,47,107,0)"}, {"offset": 0.47, "color": "rgba(29,47,107,0)"},
              {"offset": 0.47, "color": "#1d2f6b"}, {"offset": 0.53, "color": "#1d2f6b"},
              {"offset": 0.53, "color": "rgba(29,47,107,0)"}, {"offset": 0.73, "color": "rgba(29,47,107,0)"},
              {"offset": 0.73, "color": "#1d2f6b"}, {"offset": 0.79, "color": "#1d2f6b"},
              {"offset": 0.79, "color": "rgba(29,47,107,0)"}, {"offset": 1, "color": "rgba(29,47,107,0)"}
            ]}
          }
        }
      ]
    },
    {
      "encoding": {
        "x": {
          "field": "jahr", "type": "quantitative",
          "scale": {"domain": [1999, 2020.49], "nice": false, "zero": false},
          "axis": {
            "orient": "bottom", "values": [1999, 2000, 2001, 2002, 2003, 2004, 2005, 2006, 2007, 2008, 2009, 2010, 2011, 2012, 2013, 2014, 2015, 2016, 2017, 2018, 2019, 2020],
            "format": "d", "domain": false, "ticks": false, "labelPadding": 19, "labelFlush": false, "labelOverlap": false,
            "title": null, "grid": true, "gridColor": "#d4d4d4", "gridDash": [5, 5], "gridWidth": 1
          }
        },
        "y": {
          "field": "wert", "type": "quantitative",
          "scale": {"domain": [0, 700000], "nice": false},
          "axis": {
            "orient": "right", "values": [0, 100000, 200000, 300000, 400000, 500000, 600000, 700000],
            "labelExpr": "replace(format(datum.value, ','), ',', '.') + ' €'", "title": null, "grid": false,
            "domainColor": "#262626", "domainWidth": 2.5, "tickColor": "#262626", "tickWidth": 2.5, "tickSize": 7,
            "labelPadding": 14
          }
        }
      },
      "layer": [
        {
          "data": {"name": "eingezahlt"},
          "mark": {"type": "line", "strokeWidth": 4},
          "encoding": {
            "stroke": {
              "datum": "eingezahlt", "type": "nominal",
              "scale": {"domain": ["eingezahlt", "Ø Indizes", "Ø Sparplan normal", "Ø TL 200"], "range": ["#231f20", "#1a6b30", "#ed1c24", "#0b1d48"]},
              "legend": {
                "orient": "none", "legendX": 763, "legendY": 762, "direction": "horizontal", "title": null,
                "symbolType": "stroke", "symbolSize": 1936, "symbolStrokeWidth": 4,
                "labelOffset": 5, "columnPadding": 61
              }
            }
          }
        },
        {
          "data": {"name": "indizes"},
          "mark": {"type": "line", "strokeWidth": 4},
          "encoding": {"stroke": {"datum": "Ø Indizes", "type": "nominal"}}
        },
        {
          "data": {"name": "sparplan"},
          "mark": {"type": "line", "strokeWidth": 4},
          "encoding": {"stroke": {"datum": "Ø Sparplan normal", "type": "nominal"}}
        },
        {
          "data": {"name": "tl200"},
          "mark": {"type": "line", "strokeWidth": 4},
          "encoding": {"stroke": {"datum": "Ø TL 200", "type": "nominal"}}
        }
      ]
    }
  ],
  "resolve": {"scale": {"y": "independent"}, "axis": {"x": "independent"}}
}
